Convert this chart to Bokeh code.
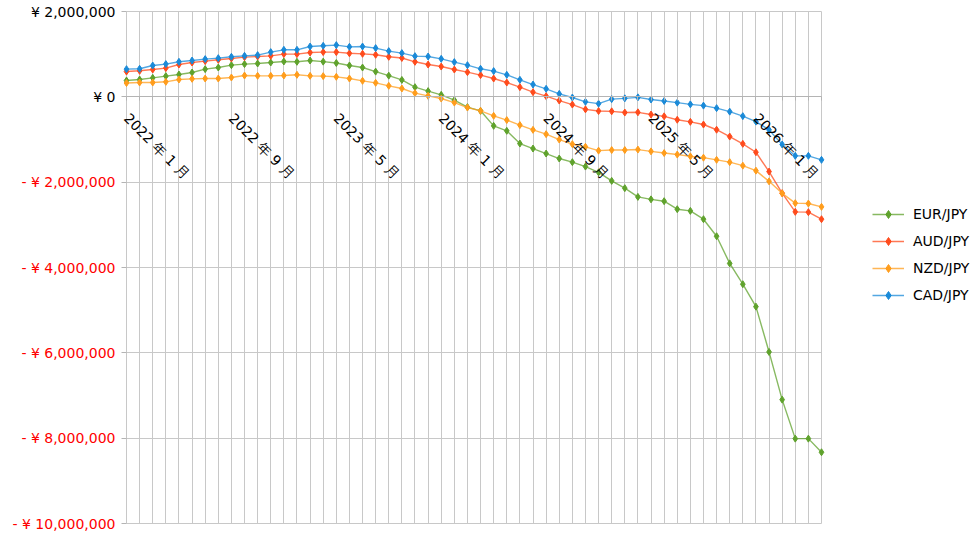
import math
from bokeh.plotting import figure
from bokeh.models import Range1d, FixedTicker, Legend, LegendItem, LinearAxis
from bokeh.embed import file_html
from bokeh.resources import INLINE

# ---- data ----
months = [f"{2022 + (k // 12)}-{(k % 12) + 1:02d}" for k in range(54)]  # 2022-01 .. 2026-06

eur_jpy = [382e3, 406e3, 445e3, 485e3, 523e3, 570e3, 649e3, 687e3, 743e3, 767e3,
           781e3, 804e3, 828e3, 821e3, 851e3, 825e3, 793e3, 735e3, 687e3, 591e3,
           497e3, 396e3, 227e3, 134e3, 47e3, -77e3, -242e3, -328e3, -680e3, -797e3,
           -1095e3, -1212e3, -1329e3, -1446e3, -1531e3, -1634e3, -1770e3, -1970e3, -2141e3, -2345e3,
           -2403e3, -2446e3, -2634e3, -2673e3, -2868e3, -3267e3, -3904e3, -4392e3, -4917e3, -5979e3,
           -7097e3, -8011e3, -8011e3, -8330e3]
aud_jpy = [593e3, 610e3, 640e3, 673e3, 757e3, 804e3, 837e3, 868e3, 899e3, 931e3,
           945e3, 961e3, 1001e3, 1001e3, 1039e3, 1048e3, 1048e3, 1020e3, 1008e3, 985e3,
           938e3, 910e3, 821e3, 757e3, 710e3, 640e3, 579e3, 509e3, 429e3, 335e3,
           227e3, 110e3, 16e3, -87e3, -181e3, -293e3, -333e3, -340e3, -368e3, -363e3,
           -415e3, -457e3, -537e3, -586e3, -649e3, -771e3, -931e3, -1102e3, -1299e3, -1752e3,
           -2258e3, -2696e3, -2703e3, -2868e3]
nzd_jpy = [324e3, 335e3, 335e3, 352e3, 406e3, 422e3, 429e3, 429e3, 453e3, 499e3,
           492e3, 492e3, 499e3, 516e3, 492e3, 485e3, 469e3, 429e3, 375e3, 328e3,
           258e3, 195e3, 87e3, 23e3, -40e3, -134e3, -251e3, -328e3, -445e3, -545e3,
           -663e3, -774e3, -875e3, -1001e3, -1109e3, -1172e3, -1261e3, -1247e3, -1247e3, -1236e3,
           -1278e3, -1318e3, -1353e3, -1395e3, -1426e3, -1477e3, -1531e3, -1613e3, -1730e3, -1981e3,
           -2262e3, -2492e3, -2501e3, -2579e3]
cad_jpy = [649e3, 657e3, 734e3, 767e3, 821e3, 851e3, 884e3, 907e3, 938e3, 961e3,
           978e3, 1048e3, 1102e3, 1102e3, 1179e3, 1196e3, 1212e3, 1172e3, 1179e3, 1142e3,
           1072e3, 1025e3, 954e3, 945e3, 891e3, 814e3, 743e3, 657e3, 603e3, 516e3,
           399e3, 288e3, 188e3, 70e3, -16e3, -117e3, -160e3, -54e3, -35e3, -12e3,
           -63e3, -98e3, -136e3, -176e3, -206e3, -265e3, -347e3, -453e3, -581e3, -774e3,
           -1116e3, -1383e3, -1383e3, -1477e3]

series_names = ["EUR/JPY", "AUD/JPY", "NZD/JPY", "CAD/JPY"]
series_values = [eur_jpy, aud_jpy, nzd_jpy, cad_jpy]
series_colors = ["#5fa22c", "#ff4b1c", "#ff9d1c", "#1a8ad8"]

y_ticks = [-10_000_000, -8_000_000, -6_000_000, -4_000_000, -2_000_000, 0, 2_000_000]
x_label_step = 8

FONT = "DejaVu Sans"
GRID = "#c8c8c8"
AXIS = "#b4b4b4"

# ---- layout (pixels) ----
W, H = 978, 535
PLOT_L, PLOT_R, PLOT_T, PLOT_B = 126, 821, 11, 523


def yen_label(v):
    if v < 0:
        return f"- ¥ {abs(v):,}"
    return f"¥ {v:,}"


def month_label(m):
    y, mo = m.split("-")
    return f"{y} 年 {int(mo)} 月"


xs = list(range(len(months)))
x0, x1 = xs[0], xs[-1]
y0, y1 = y_ticks[0], y_ticks[-1]
# ranges extended so the plot area sits at the pixel box above while the frame fills the figure
ppx = (PLOT_R - PLOT_L) / (x1 - x0)
ppy = (PLOT_B - PLOT_T) / (y1 - y0)
x_range = Range1d(x0 - PLOT_L / ppx, x1 + (W - PLOT_R) / ppx)
y_range = Range1d(y0 - (H - PLOT_B) / ppy, y1 + PLOT_T / ppy)

p = figure(width=W, height=H, x_range=x_range, y_range=y_range,
           output_backend="svg", toolbar_location=None, title=None,
           min_border=0)
p.background_fill_color = "white"
p.border_fill_color = "white"
p.outline_line_color = None

p.xaxis.visible = False
p.yaxis.visible = False
p.xgrid.ticker = FixedTicker(ticks=xs)
p.xgrid.grid_line_color = GRID
p.xgrid.cross_bounds = (y0, y1)
p.ygrid.ticker = FixedTicker(ticks=y_ticks)
p.ygrid.grid_line_color = GRID
p.ygrid.cross_bounds = (x0, x1)

# y axes drawn at the plot's left edge: black for >= 0, red for < 0
pos_ticks = [v for v in y_ticks if v >= 0]
neg_ticks = [v for v in y_ticks if v < 0]
for ticks, col in ((pos_ticks, "#000000"), (neg_ticks, "#ff0000")):
    ax = LinearAxis(ticker=FixedTicker(ticks=ticks), fixed_location=x0,
                    major_label_overrides={v: yen_label(v) for v in ticks},
                    major_label_text_font=FONT, major_label_text_font_size="14px",
                    major_label_text_color=col, major_label_standoff=6,
                    axis_line_color=None, major_tick_line_color=AXIS,
                    major_tick_out=5, major_tick_in=0, minor_tick_line_color=None)
    p.add_layout(ax, "left")

# x axis drawn on the zero line
xax = LinearAxis(ticker=FixedTicker(ticks=xs), fixed_location=0, bounds=(x0, x1),
                 major_label_overrides={i: (month_label(months[i]) if i % x_label_step == 0 else "")
                                        for i in xs},
                 major_label_orientation=-math.pi / 4,
                 major_label_text_font=FONT, major_label_text_font_size="14px",
                 major_label_text_color="#000000", major_label_standoff=15,
                 axis_line_color=AXIS, major_tick_line_color=AXIS,
                 major_tick_out=4, major_tick_in=0, minor_tick_line_color=None)
p.add_layout(xax, "below")

items = []
for name, vals, col in zip(series_names, series_values, series_colors):
    r1 = p.line(xs, vals, line_color=col, line_width=1.4, line_alpha=0.75)
    r2 = p.scatter(xs, vals, marker="diamond", size=7, fill_color=col, line_color=col)
    items.append(LegendItem(label=name, renderers=[r1, r2]))

legend = Legend(items=items, location=(872, 230), orientation="vertical",
                label_text_font=FONT, label_text_font_size="14px", label_text_color="#000000",
                glyph_width=32, glyph_height=20, label_height=20, spacing=7,
                label_standoff=9, padding=5, border_line_color=None,
                background_fill_alpha=0)
p.add_layout(legend, "center")

open("out.html", "w").write(file_html(p, INLINE))
